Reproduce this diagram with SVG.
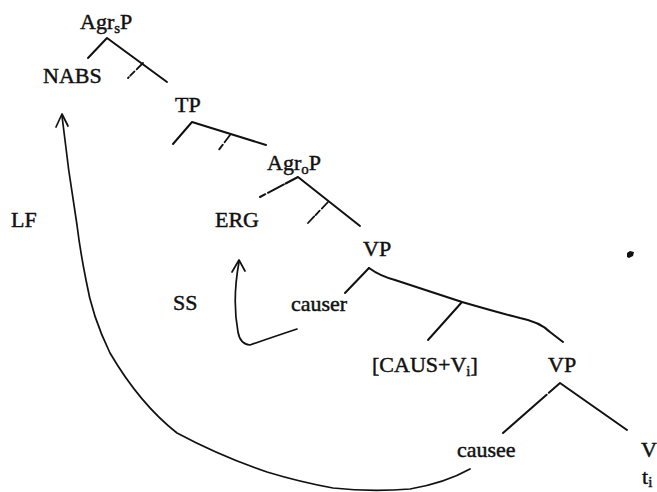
<svg xmlns="http://www.w3.org/2000/svg" width="657" height="492" viewBox="0 0 657 492">
  <style>
    .lbl { font-family: "Liberation Serif", "Times New Roman", serif; font-size: 22px; fill: #111; stroke: #111; stroke-width: 0.45px; }
    .sub { font-size: 15px; }
    .br { fill: none; stroke: #111; stroke-width: 2; stroke-linecap: round; stroke-linejoin: round; }
    .tick { fill: none; stroke: #111; stroke-width: 1.8; stroke-linecap: round; stroke-dasharray: 9 3 6 2; }
    .mv { fill: none; stroke: #111; stroke-width: 1.7; stroke-linecap: round; stroke-linejoin: round; }
  </style>
  <rect width="657" height="492" fill="#ffffff"/>

  <!-- tree branches and movement arrows -->
  <g id="connectors">
    <!-- AgrsP -->
    <path class="br" d="M88 58 L107 38 L167 82"/>
    <path class="tick" d="M143 63 L128 78"/>
    <!-- TP -->
    <path class="br" d="M173 144 L192 122 L266 145"/>
    <path class="tick" d="M230 135 L218 151"/>
    <!-- AgroP -->
    <path class="br" d="M260 197 L298 177 L360 226" stroke-dasharray="6 3 18 2 200"/>
    <path class="tick" d="M328 202 L308 223"/>
    <!-- VP (upper) -->
    <path class="br" d="M345 293 L369 268"/>
    <path class="br" d="M369 268 Q380 276 395 280 L462 302 Q500 313 520 318 Q540 322 550 332 L563 342"/>
    <path class="br" d="M462 302 L428 340"/>
    <!-- VP (lower) -->
    <path class="br" d="M503 433 L560 383 L627 430" stroke-dasharray="58 3 500"/>
    <!-- SS movement: causer to ERG -->
    <path class="mv" d="M297 329 Q270 338 250 345 Q240 344 238 332 Q232 300 239 262"/>
    <path class="mv" d="M232 272 L239 260 L245 271"/>
    <!-- LF movement: causee to NABS -->
    <path class="mv" d="M470 469 Q445 483 410 489 Q370 492 333 488 Q300 482 267 472 Q220 456 177 433 Q140 404 110 353 Q92 316 86 280 Q80 250 77 225 Q68 170 62 116"/>
    <path class="mv" d="M56 127 L62 114 L68 126"/>
    <!-- speck -->
    <path d="M627 253 l3 -2 l4 1 l-1 4 l-4 2 l-2 -1 z" fill="#111"/>
  </g>

  <g id="n-agrsp"><text class="lbl" x="80" y="29">Agr<tspan class="sub" dy="4">s</tspan><tspan dy="-4">P</tspan></text></g>
  <g id="n-nabs"><text class="lbl" x="43" y="83">NABS</text></g>
  <g id="n-tp"><text class="lbl" x="175" y="112">TP</text></g>
  <g id="n-agrop"><text class="lbl" x="267" y="170">Agr<tspan class="sub" dy="4">o</tspan><tspan dy="-4">P</tspan></text></g>
  <g id="n-lf"><text class="lbl" x="11" y="227">LF</text></g>
  <g id="n-erg"><text class="lbl" x="215" y="227">ERG</text></g>
  <g id="n-vp1"><text class="lbl" x="363" y="256">VP</text></g>
  <g id="n-ss"><text class="lbl" x="173" y="310">SS</text></g>
  <g id="n-causer"><text class="lbl" x="291" y="311">causer</text></g>
  <g id="n-caus"><text class="lbl" x="372" y="372">[CAUS+V<tspan class="sub" dy="4">i</tspan><tspan dy="-4">]</tspan></text></g>
  <g id="n-vp2"><text class="lbl" x="548" y="372">VP</text></g>
  <g id="n-causee"><text class="lbl" x="457" y="457">causee</text></g>
  <g id="n-v"><text class="lbl" x="641" y="457">V</text></g>
  <g id="n-t"><text class="lbl" x="642" y="484">t<tspan class="sub" dy="3">i</tspan></text></g>
</svg>
